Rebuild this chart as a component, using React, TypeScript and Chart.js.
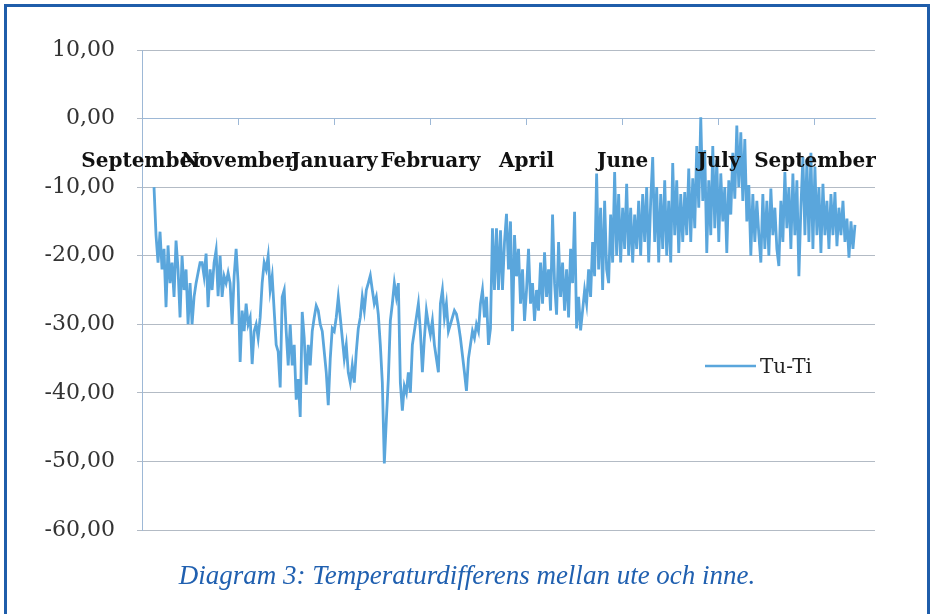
import React, { useEffect, useRef } from 'react';
import { Chart, registerables } from 'chart.js';

Chart.register(...registerables);

// ---- data ----
const monthLabels = ['September', 'November', 'January', 'February', 'April', 'June', 'July', 'September'];
const monthStep = 48; // categories between labelled ticks
const categoryCount = 367;
const seriesStart = 6; // first category that holds a value
const seriesLabel = 'Tu-Ti';

const tuTi: number[] = [
  -10, -17, -21, -16.5, -22, -19, -27.5, -18.5, -24, -21, -26, -17.8, -22, -29, -20, -25, -22, -30, -24, -30, -26, -24, -22.5, -21,
  -21, -23, -19.7, -27.5, -22, -25, -21, -19.2, -25.9, -20, -26, -23, -24, -22.5, -24, -30, -23, -19, -24, -35.5, -28, -31, -27, -30, -29,
  -35.8, -31, -30, -32, -29, -24, -21, -22, -20, -25, -23, -28, -33, -34, -39.2, -26, -25, -31, -36, -30, -36, -33, -41, -38, -43.5,
  -28.2, -32, -38.8, -33, -36, -31, -29, -27.3, -28, -30, -31, -34, -37, -41.8, -35, -30.6, -31, -29, -26.1, -29, -32, -35, -33, -37, -38.5,
  -36, -38.5, -34, -30.6, -29, -26, -28, -25, -24, -22.9, -25, -27, -26, -28.6, -33, -38.5, -50.3, -44, -38, -29.5, -27, -24, -26, -24, -38.5,
  -42.6, -39, -40, -37, -40, -33, -31, -29, -27, -31, -37, -32, -28, -30, -31.5, -29.5, -33, -35, -37, -27, -25, -29, -27, -31, -30,
  -29, -28, -28.5, -30, -32, -34.5, -37, -39.7, -35, -33, -31, -32, -30, -31, -27, -25, -29, -26, -33, -30.6, -16, -25, -16, -25, -16.3,
  -25, -18, -13.9, -22, -15, -31, -17, -23, -19, -27, -22, -29.5, -25, -19, -27, -24, -29.5, -25, -28, -21, -27, -19.5, -26, -22, -28,
  -14, -24, -28.6, -18, -26, -21, -28, -22, -29, -19, -24, -13.6, -30.6, -26, -30.9, -28, -25, -27, -22, -26, -18, -23, -8, -22, -13,
  -25, -12, -22, -24, -14, -21, -7.8, -20, -11, -21, -13, -19, -9.5, -20, -13, -21, -14, -19, -12, -20, -11, -18, -10, -21, -12,
  -5.6, -18, -10, -21, -11, -19, -9, -20, -12, -21, -6.5, -17, -9, -19.6, -11, -18, -10.7, -17, -7.3, -18, -8.7, -16, -4, -13, 0.2,
  -12, -4.6, -19.6, -9, -17, -4, -16, -6, -18, -8, -15, -10, -19.6, -9, -14, -5, -11.7, -1, -10, -2, -12, -3, -15, -9.7, -20,
  -11, -18, -12, -17, -21, -11, -19, -12, -20, -10.2, -17, -13, -19, -21.5, -12, -18, -7.8, -16, -10, -19, -8, -17, -9, -23, -13,
  -5.6, -17, -6, -18, -5, -19, -7, -17, -10, -19.6, -9.5, -17, -12, -19, -11, -17, -10.7, -18.6, -13, -17, -12, -18, -14.6, -20.3, -15, -19, -15.5,
];

const yMin = -60;
const yMax = 10;
const yStep = 10;
const caption = 'Diagram 3: Temperaturdifferens mellan ute och inne.';

// ---- derived ----
const categories: string[] = Array.from({ length: categoryCount }, (_, i) =>
  i % monthStep === 0 && monthLabels[i / monthStep] ? monthLabels[i / monthStep] : ''
);
const seriesData: (number | null)[] = Array.from({ length: categoryCount }, (_, i) => {
  const k = i - seriesStart;
  return k >= 0 && k < tuTi.length ? tuTi[k] : null;
});

const LINE_COLOR = '#5aa6dc';
const AXIS_COLOR = '#9db8d6';
const GRID_COLOR = '#b3bbc5';

const insideLegend = {
  id: 'insideLegend',
  afterDraw(chart: any) {
    const { ctx } = chart;
    const ds = chart.data.datasets[0];
    ctx.save();
    ctx.strokeStyle = ds.borderColor;
    ctx.lineWidth = 2.5;
    ctx.beginPath();
    ctx.moveTo(705, 366);
    ctx.lineTo(756, 366);
    ctx.stroke();
    ctx.fillStyle = '#222';
    ctx.font = '20px "DejaVu Serif"';
    ctx.textBaseline = 'middle';
    ctx.textAlign = 'left';
    ctx.fillText(ds.label, 760, 368);
    ctx.restore();
  },
};

export default function App() {
  const canvasRef = useRef<HTMLCanvasElement | null>(null);

  useEffect(() => {
    if (!canvasRef.current) return;
    const chart = new Chart(canvasRef.current, {
      type: 'line',
      data: {
        labels: categories,
        datasets: [
          {
            label: seriesLabel,
            data: seriesData,
            borderColor: LINE_COLOR,
            backgroundColor: LINE_COLOR,
            borderWidth: 2.8,
            pointRadius: 0,
            tension: 0,
            spanGaps: false,
          },
        ],
      },
      options: {
        animation: false,
        responsive: false,
        devicePixelRatio: 1,
        layout: { padding: { left: 0, top: 50, right: 59, bottom: 84 } },
        plugins: { legend: { display: false }, tooltip: { enabled: false }, title: { display: false } },
        scales: {
          x: {
            type: 'category',
            position: { y: 0 } as any,
            offset: false,
            grid: { display: true, drawOnChartArea: false, drawTicks: true, tickLength: 6, color: AXIS_COLOR },
            border: { display: true, color: AXIS_COLOR, width: 1 },
            ticks: {
              z: 1,
              autoSkip: false,
              maxRotation: 0,
              minRotation: 0,
              padding: 25,
              color: '#111',
              font: { family: 'DejaVu Serif', weight: 'bold', size: 20 },
              callback: (_v: any, i: number) => (categories[i] ? categories[i] : null),
            },
          },
          y: {
            min: yMin,
            max: yMax,
            ticks: {
              stepSize: yStep,
              padding: 22,
              color: '#333',
              font: { family: 'DejaVu Serif', size: 22 },
              callback: (v: any) => Number(v).toFixed(2).replace('.', ','),
            },
            grid: { color: GRID_COLOR, tickLength: 5, lineWidth: 1 },
            border: { color: AXIS_COLOR },
            afterFit: (s: any) => {
              s.width = 142;
            },
          },
        },
      },
      plugins: [insideLegend],
    });
    return () => chart.destroy();
  }, []);

  return (
    <div style={{ position: 'absolute', left: 0, top: 0, width: 934, height: 614, background: '#fff', overflow: 'hidden' }}>
      <canvas ref={canvasRef} width={934} height={614} style={{ position: 'absolute', left: 0, top: 0, width: 934, height: 614 }} />
      <div
        style={{
          position: 'absolute',
          left: 4,
          top: 4,
          width: 926,
          height: 640,
          border: '3px solid #1f5daa',
          boxSizing: 'border-box',
          pointerEvents: 'none',
        }}
      />
      <div
        style={{
          position: 'absolute',
          left: 0,
          top: 562,
          width: 934,
          textAlign: 'center',
          fontFamily: '"Liberation Serif", "Times New Roman", serif',
          fontStyle: 'italic',
          fontSize: 27,
          lineHeight: '27px',
          color: '#2060b0',
        }}
      >
        {caption}
      </div>
    </div>
  );
}
